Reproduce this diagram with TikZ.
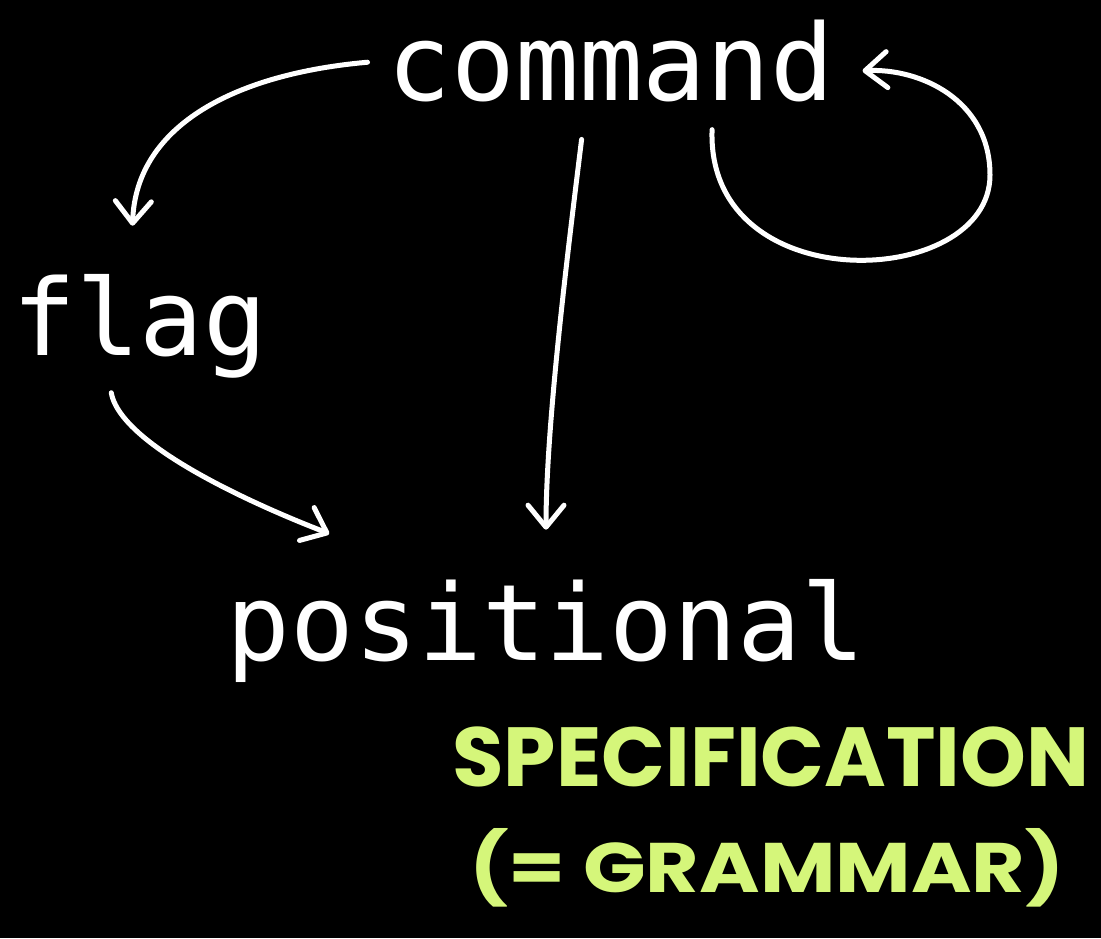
\documentclass[tikz,border=0pt]{standalone}
\usepackage{fontspec}
\usepackage{tikz}
\usetikzlibrary{arrows.meta}
\newfontfamily\codefont{DejaVu Sans Mono}
\newfontfamily\notefont{Poppins}
\definecolor{gnote}{HTML}{D5F67A}

\begin{document}
\begin{tikzpicture}[x=1pt, y=1pt,
  term/.style={text=white, inner sep=0pt, anchor=base, font=\codefont\fontsize{106}{112}\selectfont},
  note/.style={text=gnote, inner sep=0pt, font=\notefont\bfseries},
  link/.style={draw=white, line width=5pt, line cap=round, -{Straight Barb[length=22pt,width=36pt,round]}}]
 \fill[black] (0,0) rectangle (1101,-938);
 \useasboundingbox (0,0) rectangle (1101,-938);
 \node[term] (command) at (611,-100) {command};
 \node[term] (flag) at (140,-355) {flag};
 \node[term] (positional) at (546,-660) {positional};
 \node[note] (spec) at (771,-757) {\resizebox{637pt}{!}{SPECIFICATION}};
 \node[note] (grammar) at (767,-868) {\resizebox{595pt}{64pt}{(= GRAMMAR)}};
 \draw[link, shorten <=20pt, shorten >=48pt] (command.west) .. controls +(185:150) and +(88:150) .. (flag.100);
 \draw[link, shorten <=38pt, shorten >=49pt] (command.239) .. controls +(263:150) and +(90:154) .. (positional.north);
 \draw[link, shorten <=28pt, shorten >=28pt] (command.338) .. controls +(-92:200) and (990,-290) .. (990,-175) .. controls (990,-100) and (920,-68) .. (command.-3);
 \draw[link, shorten <=15pt, shorten >=110pt] (flag.239) .. controls +(-80:80) and +(156:120) .. (positional.156);
\end{tikzpicture}
\end{document}
